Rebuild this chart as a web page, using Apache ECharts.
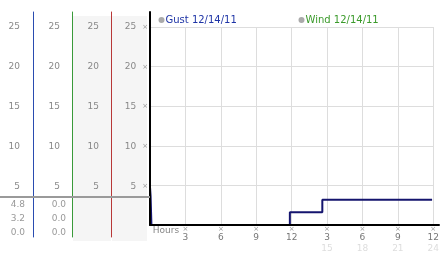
<!DOCTYPE html>
<html><head><meta charset="utf-8">
<script src="https://cdn.jsdelivr.net/npm/echarts@6/dist/echarts.min.js"></script>
<style>html,body{margin:0;padding:0;background:#fff}#c{width:442px;height:253px}</style>
</head><body><div id="c"></div>
<script>
// ---- data ----
const seriesNames = ['Gust 12/14/11', 'Wind 12/14/11'];
const gustHours  = [0, 0.05, 0.12, 11.85, 14.6, 23.9];
const gustSpeeds = [4.8, 3.7, 0.0, 1.6, 3.2, 3.2];
const windHours  = [0, 0.05, 0.12, 11.85, 14.6, 23.9];
const windSpeeds = [0.0, 0.0, 0.0, 0.0, 0.0, 0.0];
const yTickValues = [5, 10, 15, 20, 25];
const xTickHours  = [0, 3, 6, 9, 12, 15, 18, 21, 24];
const xTickLabels = ['Hours', '3', '6', '9', '12', '3', '6', '9', '12'];
const xTickLabels2 = ['', '', '', '', '', '15', '18', '21', '24'];

// stats shown under the separator: max, latest, min
const stats = arr => [Math.max(...arr), arr[arr.length - 1], Math.min(...arr)].map(v => v.toFixed(1));
const gustStats = stats(gustSpeeds);
const windStats = stats(windSpeeds);

// ---- layout ----
const FONT = 'DejaVu Sans';
const PLOT_LEFT = 150, PLOT_RIGHT = 3, ZERO_Y = 226, AXIS_Y = 225, PPU = 199 / 25;
const PANEL_TOP = 12, PANEL_BOTTOM_Y = 237;
const panelMax = (ZERO_Y - PANEL_TOP) / PPU;
const panelMin = -(PANEL_BOTTOM_Y - ZERO_Y) / PPU;
const columns = [
  { x: 33, color: '#2a4cb0', margin: 13 },
  { x: 72, color: '#3a9a3a', margin: 12 },
  { x: 111, color: '#b83838', margin: 12 }
];

const zip = (xs, ys) => xs.map((x, i) => [x, ys[i]]);
const labelBase = { color: '#888', fontSize: 9, fontFamily: FONT };

const grids = [
  { left: PLOT_LEFT, right: PLOT_RIGHT, top: 27, bottom: 253 - ZERO_Y },
  { left: PLOT_LEFT, right: PLOT_RIGHT, top: PANEL_TOP, bottom: 253 - AXIS_Y }
];
const xAxes = [
  { type: 'value', gridIndex: 0, min: 0, max: 24, interval: 3,
    axisLine: { show: false, onZero: false }, axisTick: { show: false },
    splitLine: { show: true, lineStyle: { color: '#ddd', width: 1 } },
    axisLabel: {
      customValues: xTickHours, margin: 0, showMinLabel: true, showMaxLabel: true,
      formatter: function (v) {
        const i = xTickHours.indexOf(v);
        if (i === 0) return '{h|' + xTickLabels[0] + '}';
        let s = '{m|\u00d7}\n{v|' + xTickLabels[i] + '}';
        if (xTickLabels2[i]) s += '\n{g|' + xTickLabels2[i] + '}';
        return s;
      },
      rich: {
        h: { fontFamily: FONT, fontSize: 9, color: '#888', lineHeight: 12, padding: [0, 0, 0, 32] },
        m: { fontFamily: FONT, fontSize: 7, color: '#999', lineHeight: 8 },
        v: { fontFamily: FONT, fontSize: 9, color: '#777', lineHeight: 10 },
        g: { fontFamily: FONT, fontSize: 9, color: '#ddd', lineHeight: 11 }
      }
    } },
  { type: 'value', gridIndex: 1, min: 0, max: 24, z: 10,
    axisLine: { show: true, onZero: false, lineStyle: { color: '#000', width: 2 } },
    axisTick: { show: false }, axisLabel: { show: false }, splitLine: { show: false } }
];
const yAxes = [
  { type: 'value', gridIndex: 0, min: 0, max: 25, interval: 5,
    axisLine: { show: false, onZero: false }, axisTick: { show: false }, axisLabel: { show: false },
    splitLine: { show: true, lineStyle: { color: '#ddd', width: 1 } } },
  { type: 'value', gridIndex: 1, position: 'left', min: 0, max: (AXIS_Y - PANEL_TOP) / PPU, z: 10,
    axisLine: { show: true, onZero: false, lineStyle: { color: '#000', width: 2 } },
    axisTick: { show: false }, splitLine: { show: false },
    axisLabel: {
      customValues: yTickValues.map(v => v - (ZERO_Y - AXIS_Y) / PPU), margin: 2,
      formatter: v => '{v|' + Math.round(v) + '}{m|\u00d7}',
      rich: {
        v: { fontFamily: FONT, fontSize: 9, color: '#888' },
        m: { fontFamily: FONT, fontSize: 7, color: '#999', padding: [0, 0, 0, 6] }
      }
    } }
];
columns.forEach(c => {
  const gi = grids.length;
  grids.push({ left: c.x, width: 30, top: PANEL_TOP, bottom: 253 - PANEL_BOTTOM_Y });
  xAxes.push({ type: 'value', gridIndex: gi, min: 0, max: 1, show: false });
  yAxes.push({ type: 'value', gridIndex: gi, position: 'left', min: panelMin, max: panelMax, z: 5,
    axisLine: { show: true, onZero: false, lineStyle: { color: c.color, width: 1 } },
    axisTick: { show: false }, splitLine: { show: false },
    axisLabel: Object.assign({ customValues: yTickValues, margin: c.margin }, labelBase) });
});

const chart = echarts.init(document.getElementById('c'), null, { renderer: 'canvas' });
chart.setOption({
  animation: false,
  backgroundColor: '#fff',
  legend: [
    { data: [{ name: seriesNames[0], textStyle: { color: '#1e34a6' } }],
      left: 158.5, top: 15, padding: 0, icon: 'circle', itemWidth: 6, itemHeight: 6,
      itemStyle: { color: '#aaa' }, selectedMode: false,
      textStyle: { fontFamily: FONT, fontSize: 10, padding: [0, 0, 0, -4] } },
    { data: [{ name: seriesNames[1], textStyle: { color: '#3a9a2a' } }],
      left: 298.5, top: 15, padding: 0, icon: 'circle', itemWidth: 6, itemHeight: 6,
      itemStyle: { color: '#aaa' }, selectedMode: false,
      textStyle: { fontFamily: FONT, fontSize: 10, padding: [0, 0, 0, -4] } }
  ],
  grid: grids,
  xAxis: xAxes,
  yAxis: yAxes,
  series: [
    { name: seriesNames[1], type: 'line', xAxisIndex: 0, yAxisIndex: 0, step: 'end',
      data: zip(windHours, windSpeeds), showSymbol: false, symbol: 'none', z: 2,
      itemStyle: { color: '#3aaa3a' }, lineStyle: { color: '#3aaa3a', width: 2 } },
    { name: seriesNames[0], type: 'line', xAxisIndex: 0, yAxisIndex: 0, step: 'end',
      data: zip(gustHours, gustSpeeds), showSymbol: false, symbol: 'none', z: 3,
      itemStyle: { color: '#14146e' }, lineStyle: { color: '#14146e', width: 2 } }
  ],
  graphic: [
    { type: 'rect', z: -10, silent: true, shape: { x: 73, y: 16, width: 38, height: 225 }, style: { fill: '#f5f5f5' } },
    { type: 'rect', z: -10, silent: true, shape: { x: 112, y: 16, width: 35, height: 225 }, style: { fill: '#f5f5f5' } },
    { type: 'line', z: 100, silent: true, shape: { x1: 0, y1: 197, x2: 150, y2: 197 }, style: { stroke: '#9a9a9a', lineWidth: 2 } }
  ].concat(
    gustStats.map((t, i) => ({ type: 'text', z: 100, silent: true, x: 25, y: 204.5 + i * 14,
      style: { text: t, fill: '#999', font: '9px "' + FONT + '"', align: 'right', verticalAlign: 'middle' } })),
    windStats.map((t, i) => ({ type: 'text', z: 100, silent: true, x: 66, y: 204.5 + i * 14,
      style: { text: t, fill: '#999', font: '9px "' + FONT + '"', align: 'right', verticalAlign: 'middle' } }))
  )
});
</script></body></html>
